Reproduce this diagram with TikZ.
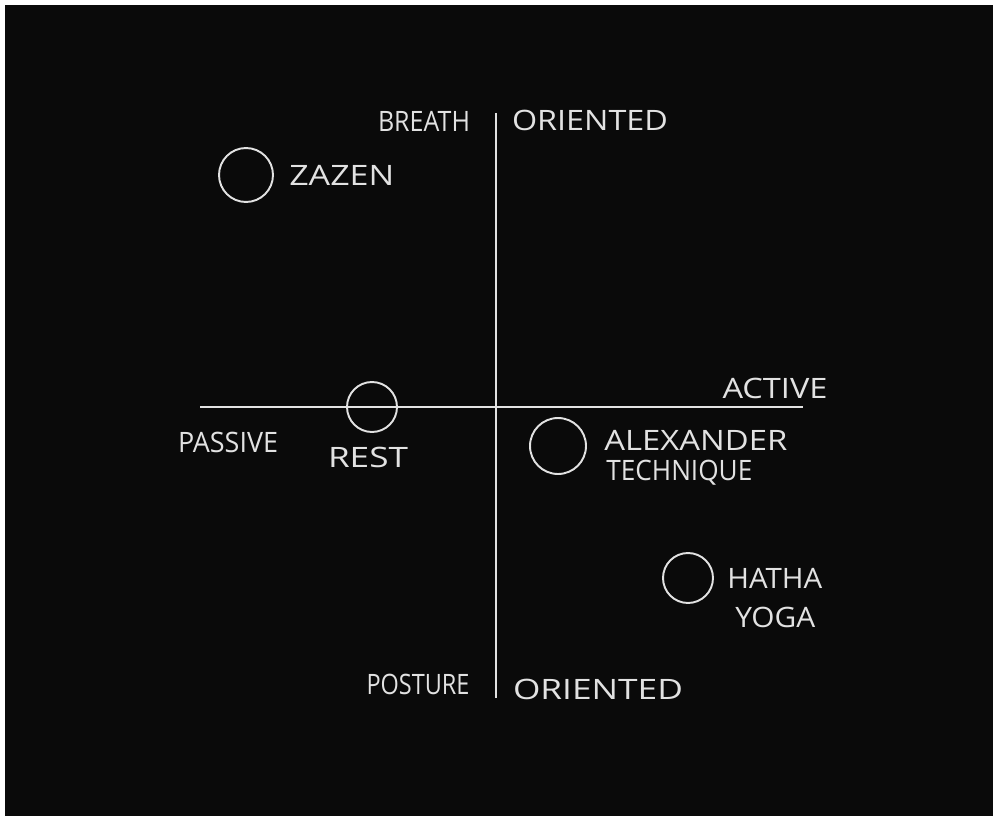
\documentclass[tikz,border=0pt]{standalone}
\usepackage{fontspec}
\setmainfont{Open Sans}
\usetikzlibrary{positioning}
\definecolor{bgblack}{HTML}{0A0A0A}
\definecolor{chalk}{HTML}{E2E2E2}
\newcommand{\handw}[2]{\resizebox{#1}{\height}{#2}}

\begin{document}
\begin{tikzpicture}[x=0.02cm,y=-0.02cm,
    chalkline/.style={chalk,line width=0.8pt},
    practice/.style={circle,draw=chalk,line width=1.1pt,inner sep=0pt},
    hand/.style={chalk,font=\fontsize{16}{19}\selectfont,inner sep=0pt,align=left}]
  % ---- board ----
  \useasboundingbox (0,0) rectangle (998,821);
  \fill[white] (0,0) rectangle (998,821);
  \fill[bgblack] (5,5) rectangle (993,816);
  % ---- axes ----
  \coordinate (vtop) at (496,113);
  \coordinate (vbot) at (496,698);
  \coordinate (hleft) at (200,407);
  \coordinate (hright) at (803,407);
  \draw[chalkline] (vtop) -- (vbot);
  \draw[chalkline] (hleft) -- (hright);
  % ---- axis labels ----
  \node[hand] (breath) at (424,121) {\handw{1.84cm}{BREATH}};
  \node[hand] (orientedtop) at (590,120) {\handw{3.12cm}{ORIENTED}};
  \node[hand] (posture) at (418,684) {\handw{2.06cm}{POSTURE}};
  \node[hand] (orientedbot) at (598,689) {\handw{3.4cm}{ORIENTED}};
  \node[hand] (active) at (775,388) {\handw{2.1cm}{ACTIVE}};
  \node[hand] (passive) at (228,442) {\handw{2.0cm}{PASSIVE}};
  % ---- practices ----
  \node[practice,minimum size=1.08cm] (zazen) at (246,175) {};
  \node[hand,right=15 of zazen] (zazenlbl) {\handw{2.1cm}{ZAZEN}};
  \node[practice,minimum size=1.0cm] (rest) at (372,407) {};
  \node[hand] (restlbl) at (368,457) {\handw{1.6cm}{REST}};
  \node[practice,minimum size=1.12cm] (alex) at (558,446) {};
  \node[hand,anchor=west] (alexlbl) at (604,458)
        {\handw{3.66cm}{ALEXANDER}\\[-2pt]\hspace*{0.04cm}\handw{2.92cm}{TECHNIQUE}};
  \node[hand,anchor=west] (hathalbl) at (727,598)
        {\handw{1.9cm}{HATHA}\\[3pt]\hspace*{0.16cm}\handw{1.6cm}{YOGA}};
  \node[practice,minimum size=1.0cm] (hatha) at (688,578) {};
\end{tikzpicture}
\end{document}
